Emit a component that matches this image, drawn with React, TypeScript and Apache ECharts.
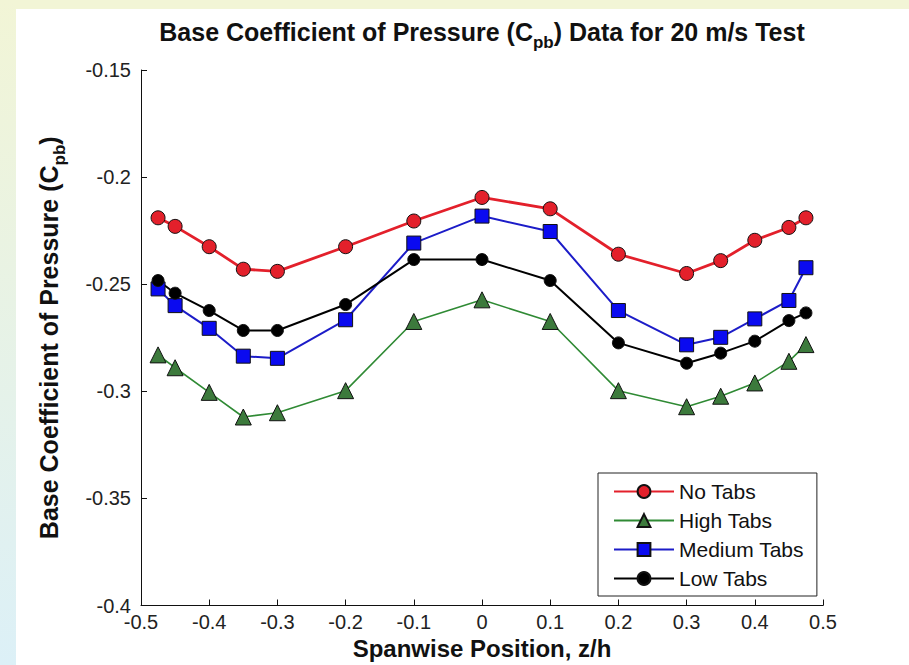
import React, { useEffect, useRef } from "react";
import * as echarts from "echarts";

const positions = [-0.475, -0.45, -0.4, -0.35, -0.3, -0.2, -0.1, 0, 0.1, 0.2, 0.3, 0.35, 0.4, 0.45, 0.475];
const noTabs = [-0.219, -0.223, -0.2325, -0.243, -0.244, -0.2325, -0.2205, -0.2095, -0.2148, -0.236, -0.245, -0.239, -0.2295, -0.2235, -0.219];
const highTabs = [-0.283, -0.289, -0.3005, -0.312, -0.31, -0.2997, -0.2674, -0.2573, -0.2674, -0.2997, -0.3072, -0.3023, -0.2961, -0.286, -0.2782];
const mediumTabs = [-0.2522, -0.26, -0.2706, -0.2836, -0.2846, -0.2666, -0.2308, -0.2182, -0.2254, -0.2623, -0.2783, -0.2748, -0.2662, -0.2576, -0.2423];
const lowTabs = [-0.2483, -0.2542, -0.2623, -0.2716, -0.2716, -0.2595, -0.2385, -0.2385, -0.2483, -0.2774, -0.2869, -0.2822, -0.2766, -0.267, -0.2634];
const seriesNames = ["No Tabs", "High Tabs", "Medium Tabs", "Low Tabs"];

const FONT = "'Liberation Sans', Arial, sans-serif";

function pairs(ys: number[]) {
  return positions.map((x, i) => [x, ys[i]]);
}

export default function App() {
  const ref = useRef<HTMLDivElement>(null);
  useEffect(() => {
    document.body.style.margin = "0";
    const chart = echarts.init(ref.current!, null, { renderer: "svg" });
    const mk = (name: string, data: number[], lineColor: string, fill: string, symbol: string, size: number, width: number) => ({
      name,
      type: "line",
      data: pairs(data),
      symbol,
      symbolSize: size,
      lineStyle: { color: lineColor, width },
      itemStyle: { color: fill, borderColor: "#111", borderWidth: 1 },
      emphasis: { disabled: true },
      z: 3,
    });
    chart.setOption({
      animation: false,
      backgroundColor: "#ffffff",
      textStyle: { fontFamily: FONT },
      graphic: [
        { type: "rect", left: 0, top: 0, shape: { width: 909, height: 9 }, style: { fill: "#f2f5d6" }, silent: true },
        {
          type: "rect", left: 0, top: 0, shape: { width: 16, height: 665 },
          style: {
            fill: new echarts.graphic.LinearGradient(0, 0, 0, 1, [
              { offset: 0, color: "#f2f5d6" },
              { offset: 1, color: "#dcf0f7" },
            ]),
          },
          silent: true,
        },
      ],
      title: {
        left: 477,
        textAlign: "center",
        top: 14,
        text: "{a|Base Coefficient of Pressure (C}{s|pb}{a|) Data for 20 m/s Test}",
        textStyle: {
          rich: {
            a: { fontFamily: FONT, fontWeight: "bold", fontSize: 25, color: "#111", lineHeight: 25, verticalAlign: "top" },
            s: { fontFamily: FONT, fontWeight: "bold", fontSize: 17, color: "#111", lineHeight: 32, verticalAlign: "bottom" },
          },
        },
      },
      legend: {
        orient: "vertical",
        left: 598,
        top: 473,
        data: seriesNames,
        itemWidth: 60,
        itemHeight: 16,
        itemGap: 8,
        padding: [8, 13, 7, 15],
        borderColor: "#222",
        borderWidth: 1,
        backgroundColor: "#fff",
        textStyle: { fontFamily: FONT, fontSize: 21, color: "#111" },
        selectedMode: false,
      },
      grid: { left: 141, right: 86, top: 70, bottom: 59.5, containLabel: false, outerBoundsMode: "none" },
      xAxis: {
        type: "value",
        min: -0.5,
        max: 0.5,
        interval: 0.1,
        name: "Spanwise Position, z/h",
        nameLocation: "middle",
        nameGap: 31,
        nameTextStyle: { fontFamily: FONT, fontWeight: "bold", fontSize: 24, lineHeight: 24, color: "#111", verticalAlign: "top" },
        axisLine: { onZero: false, lineStyle: { color: "#111", width: 1 } },
        axisTick: { inside: true, length: 6, lineStyle: { color: "#111" } },
        axisLabel: { fontFamily: FONT, fontSize: 20, color: "#222", margin: 6 },
        splitLine: { show: false },
      },
      yAxis: {
        type: "value",
        min: -0.4,
        max: -0.15,
        interval: 0.05,
        name: "{a|Base Coefficient of Pressure (C}{s|pb}{a|)}",
        nameLocation: "middle",
        nameGap: 73,
        nameRotate: 90,
        nameTextStyle: {
          rich: {
            a: { fontFamily: FONT, fontWeight: "bold", fontSize: 25, color: "#111", lineHeight: 25, verticalAlign: "top" },
            s: { fontFamily: FONT, fontWeight: "bold", fontSize: 17, color: "#111", lineHeight: 32, verticalAlign: "bottom" },
          },
        },
        axisLine: { show: true, onZero: false, lineStyle: { color: "#111", width: 1 } },
        axisTick: { show: true, inside: true, length: 6, lineStyle: { color: "#111" } },
        axisLabel: { fontFamily: FONT, fontSize: 20, color: "#222", margin: 10 },
        splitLine: { show: false },
      },
      series: [
        mk("No Tabs", noTabs, "#e3202b", "#e3202b", "circle", 14, 2.8),
        mk("High Tabs", highTabs, "#2f8a34", "#3c7a3c", "triangle", 16, 1.6),
        mk("Medium Tabs", mediumTabs, "#1c1cc8", "#0a0af0", "rect", 14, 2),
        mk("Low Tabs", lowTabs, "#000000", "#000000", "circle", 12, 2),
      ],
    });
    return () => chart.dispose();
  }, []);
  return <div ref={ref} style={{ width: 909, height: 665 }} />;
}
